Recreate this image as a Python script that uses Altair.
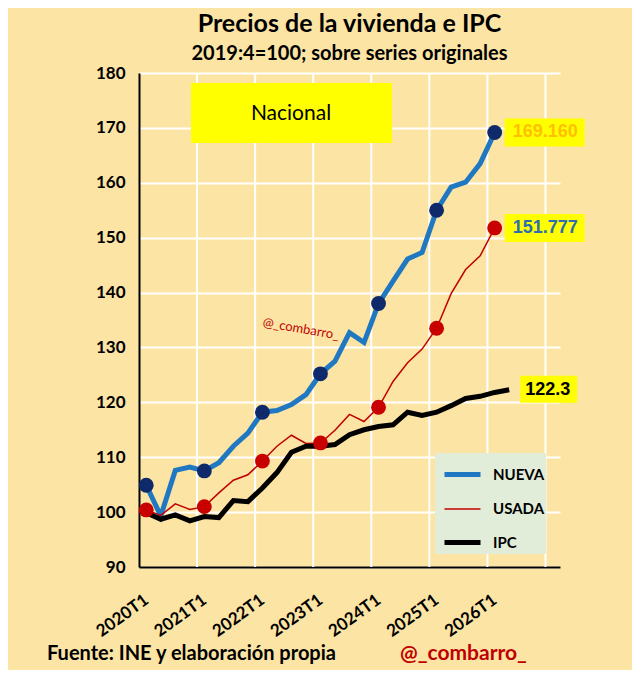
import json
import altair as alt
import pandas as pd

# ---------------- data ----------------
quarters = [f"{y}T{q}" for y in range(2020, 2027) for q in range(1, 5)][:26]
tick_labels = ["2020T1", "2021T1", "2022T1", "2023T1", "2024T1", "2025T1", "2026T1"]
series_names = ["NUEVA", "USADA", "IPC"]

nueva = [104.9, 99.3, 107.6, 108.2, 107.5, 109.0, 112.0, 114.4, 118.2, 118.5,
         119.6, 121.4, 125.2, 127.5, 132.7, 130.9, 138.0, 142.1, 146.1, 147.3,
         155.0, 159.2, 160.1, 163.5, 169.160]
usada = [100.4, 99.4, 101.5, 100.5, 101.0, 103.5, 105.8, 106.8, 109.3, 112.0,
         114.0, 112.5, 112.6, 114.9, 117.8, 116.5, 119.1, 123.8, 127.2, 129.7,
         133.5, 139.8, 144.2, 146.7, 151.777]
ipc = [99.9, 98.7, 99.5, 98.4, 99.2, 99.0, 102.1, 101.9, 104.4, 107.2,
       110.9, 112.0, 112.0, 112.3, 114.1, 115.0, 115.6, 115.9, 118.2, 117.6,
       118.2, 119.4, 120.7, 121.1, 121.8, 122.3]

line_colors = ["#1F78C1", "#C00000", "#000000"]
line_widths = [5, 1.5, 5]
label_colors = ["#FFC000", "#2E6EB0", "#000000"]

# ---------------- tables ----------------
rows = []
for name, vals in zip(series_names, [nueva, usada, ipc]):
    for i, v in enumerate(vals):
        rows.append({"serie": name, "idx": i, "quarter": quarters[i], "valor": v})
df = pd.DataFrame(rows)

lab = pd.DataFrame({
    "serie": series_names,
    "idx": [len(nueva) - 1, len(usada) - 1, len(ipc) - 1],
    "valor": [nueva[-1], usada[-1], ipc[-1]],
    "texto": [f"{nueva[-1]:.3f}", f"{usada[-1]:.3f}", f"{ipc[-1]:.1f}"],
    "tcolor": label_colors,
})
year_bounds = pd.DataFrame({"idx": [4 * k - 0.5 for k in range(1, len(tick_labels) + 1)]})

BG = "#FCE4A4"
FONT = "Lato"

xscale = alt.Scale(domain=[-0.5, 28.5], nice=False, zero=False)
yscale = alt.Scale(domain=[90, 180], nice=False, zero=False)

x_axis = alt.Axis(
    values=[4 * k for k in range(len(tick_labels))],
    labelExpr=json.dumps(tick_labels) + "[round(datum.value / 4)]",
    labelAngle=-36, labelAlign="right", labelBaseline="middle",
    labelFont=FONT, labelFontSize=17, labelFontWeight="bold",
    labelColor="black", labelPadding=31, ticks=False, grid=False,
    domainColor="black", domainWidth=2, title=None, labelOverlap=False,
)
y_axis = alt.Axis(
    values=list(range(90, 181, 10)), grid=True, gridColor="white", gridWidth=2,
    domainColor="black", domainWidth=2, ticks=False, labelFont=FONT,
    labelFontSize=17, labelFontWeight="bold", labelColor="black",
    labelPadding=14, title=None,
)
X = alt.X("idx:Q", scale=xscale, axis=x_axis)
Y = alt.Y("valor:Q", scale=yscale, axis=y_axis)

base = alt.Chart(df)

vgrid = alt.Chart(year_bounds).mark_rule(color="white", strokeWidth=2).encode(x=X)

one = pd.DataFrame({"t": ["Nacional"]})
nac_box = alt.Chart(one).mark_rect(color="#FFFF00").encode(
    x=alt.value(52), x2=alt.value(253), y=alt.value(10), y2=alt.value(70)
)
nac_txt = alt.Chart(one).mark_text(font=FONT, fontSize=21, color="black").encode(
    x=alt.value(152), y=alt.value(41), text="t:N"
)
wm = alt.Chart(pd.DataFrame({"t": ["@_combarro_"]})).mark_text(
    font=FONT, fontSize=13, color="#C00000", angle=10
).encode(x=alt.value(162), y=alt.value(256), text="t:N")

leg = alt.Legend(
    orient="none", legendX=296, legendY=380, title=None,
    symbolType="stroke", symbolSize=1296, symbolOffset=6,
    rowPadding=5, padding=1, fillColor="#E2EDD9",
    labelFont=FONT, labelFontSize=15, labelFontWeight="bold",
    labelColor="black", labelOffset=10,
)
lines = base.mark_line().encode(
    x=X, y=Y,
    color=alt.Color("serie:N", scale=alt.Scale(domain=series_names, range=line_colors), legend=leg),
    strokeWidth=alt.StrokeWidth(
        "serie:N",
        scale=alt.Scale(type="ordinal", domain=series_names, range=line_widths),
        legend=leg,
    ),
    order="idx:Q",
)

is_t1 = "indexof(datum.quarter, 'T1') > 0"
dots_n = base.transform_filter(f"datum.serie == 'NUEVA' && {is_t1}").mark_circle(
    size=220, color="#0E2A6A", opacity=1
).encode(x=X, y=Y)
dots_u = base.transform_filter(f"datum.serie == 'USADA' && {is_t1}").mark_circle(
    size=220, color="#C80000", opacity=1
).encode(x=X, y=Y)

labbase = alt.Chart(lab)
pos = dict(x=X, x2="idx:Q", y=Y, y2="valor:Q")
box_big = labbase.transform_filter("datum.serie != 'IPC'").mark_rect(
    color="#FFFF00", xOffset=10, x2Offset=90, yOffset=-14, y2Offset=14
).encode(**pos)
box_ipc = labbase.transform_filter("datum.serie == 'IPC'").mark_rect(
    color="#FFFF00", xOffset=11, x2Offset=68, yOffset=-14, y2Offset=13
).encode(**pos)
tpos = dict(x=X, y=Y, text="texto:N", color=alt.Color("tcolor:N", scale=None))
txt_big = labbase.transform_filter("datum.serie != 'IPC'").mark_text(
    align="left", baseline="middle", dx=18, font="Liberation Sans",
    fontSize=18, fontWeight="bold"
).encode(**tpos)
txt_ipc = labbase.transform_filter("datum.serie == 'IPC'").mark_text(
    align="left", baseline="middle", dx=16, font="Liberation Sans",
    fontSize=18, fontWeight="bold"
).encode(**tpos)

foot1 = alt.Chart(pd.DataFrame({"t": ["Fuente: INE y elaboración propia"]})).mark_text(
    align="left", baseline="middle", font=FONT, fontSize=20, fontWeight="bold", color="black"
).encode(x=alt.value(-92), y=alt.value(581), text="t:N")
foot2 = alt.Chart(pd.DataFrame({"t": ["@_combarro_"]})).mark_text(
    align="left", baseline="middle", font=FONT, fontSize=21, fontWeight="bold", color="#C00000"
).encode(x=alt.value(261), y=alt.value(581), text="t:N")

chart = alt.layer(
    vgrid, nac_box, nac_txt, wm, lines, dots_n, dots_u,
    box_big, box_ipc, txt_big, txt_ipc, foot1, foot2,
).properties(
    width=421, height=494,
    padding={"left": 131, "top": 65, "right": 72, "bottom": 103},
    autosize=alt.AutoSizeParams(type="none"),
    title=alt.TitleParams(
        text="Precios de la vivienda  e IPC",
        subtitle="2019:4=100; sobre series originales",
        font=FONT, fontSize=25, fontWeight="bold", color="black",
        subtitleFont=FONT, subtitleFontSize=20, subtitleFontWeight="bold",
        subtitleColor="black", anchor="middle", offset=0, subtitlePadding=7,
    ),
).configure(background=BG).configure_view(stroke=None)

chart.save("out.html", embed_options={"renderer": "svg", "actions": False})
